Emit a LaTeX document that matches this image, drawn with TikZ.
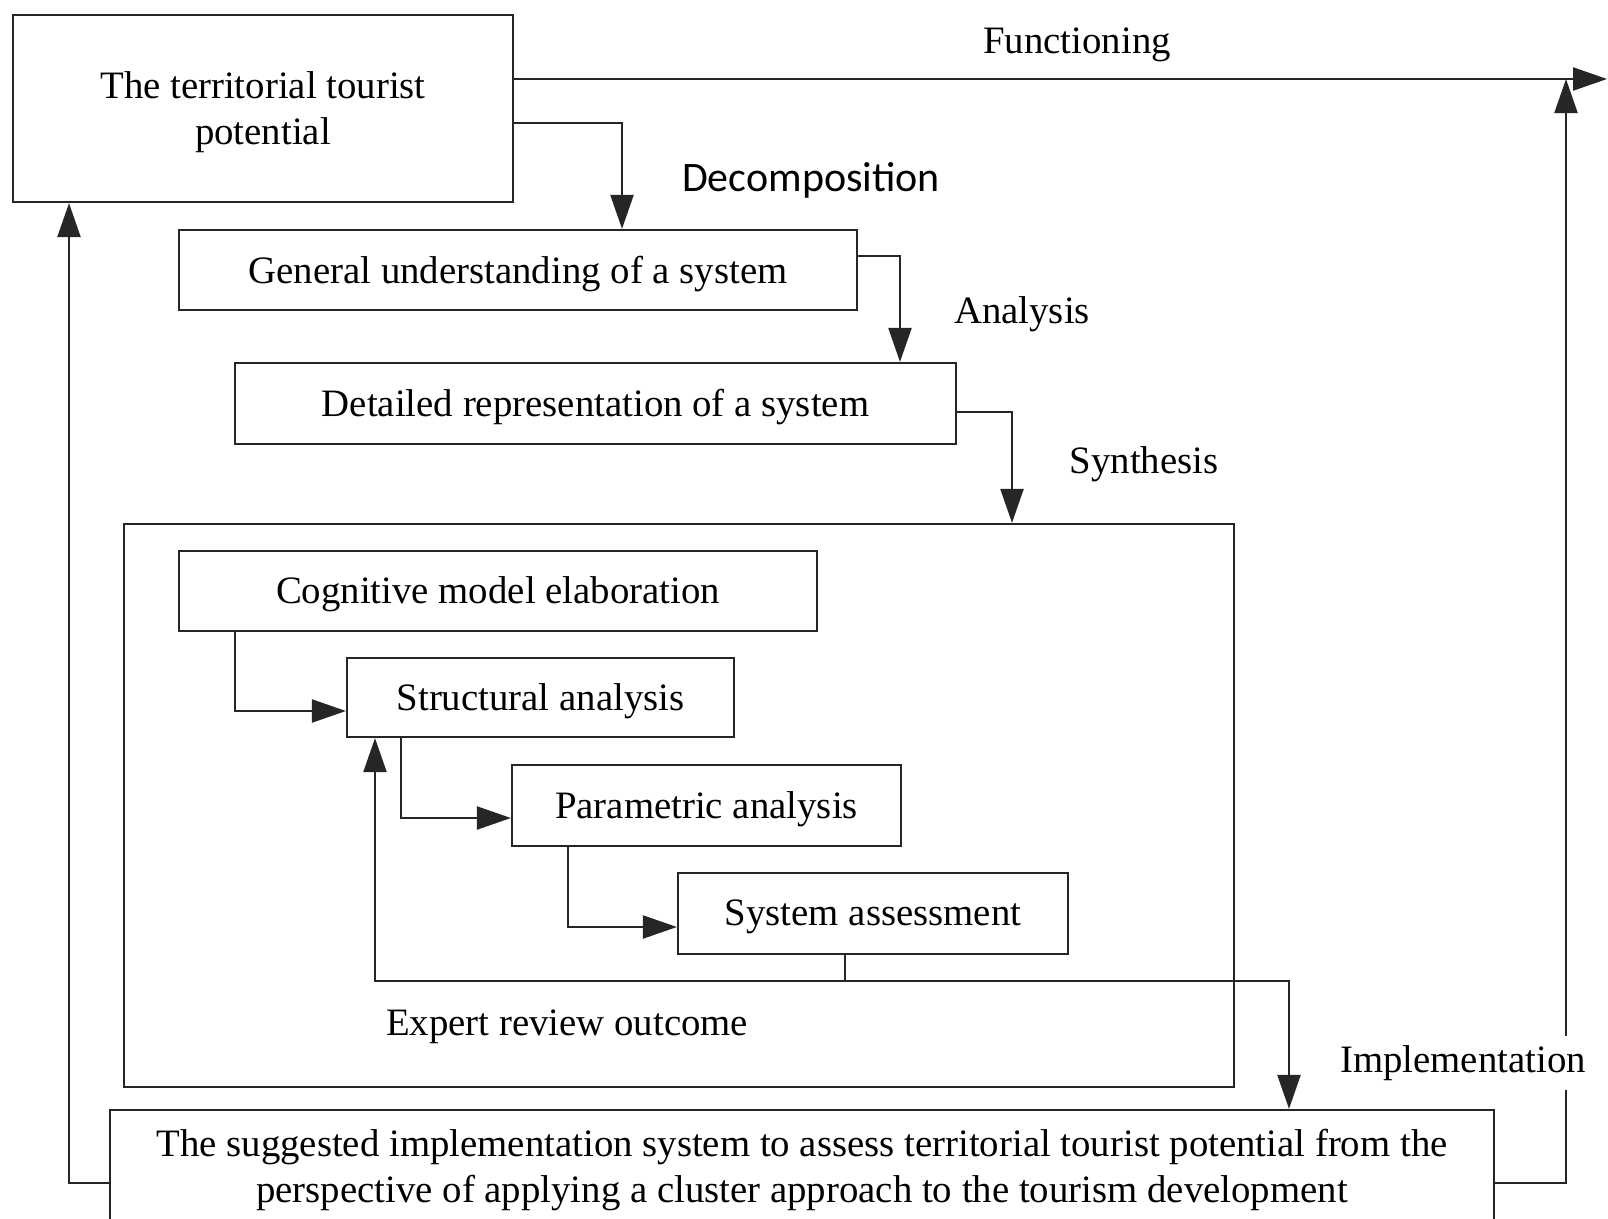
\documentclass[tikz,border=0pt]{standalone}
\usepackage{fontspec}
\setmainfont{Liberation Serif}
\newfontfamily\calib{Carlito}
\usetikzlibrary{arrows.meta}
\begin{document}
\begin{tikzpicture}[x=1pt,y=-1pt,
  line width=2.2pt, draw=black!85,
  every node/.style={font=\fontsize{38.8}{46}\selectfont},
  box/.style={draw, inner sep=0pt, align=center, text depth=1pt},
  lbl/.style={inner sep=0pt},
  arr/.style={-{Triangle[length=34pt,width=23pt]}},
  ]
\useasboundingbox (0,0) rectangle (1608,1218);
\fill[white] (0,0) rectangle (1608,1218);
% boxes
\node[box, minimum width=500pt, minimum height=187pt] (top) at (263,108.5) {The territorial tourist\\potential};
\node[box, minimum width=678pt, minimum height=80pt] (gen) at (518,270) {General understanding of a system};
\node[box, minimum width=721pt, minimum height=81pt] (det) at (595.5,403.5) {Detailed representation of a system};
\node[box, minimum width=1110pt, minimum height=563pt] (big) at (679,805.5) {};
\node[box, minimum width=638pt, minimum height=80pt] (cog) at (498,591) {Cognitive model elaboration};
\node[box, minimum width=387pt, minimum height=79pt] (str) at (540.5,697.5) {Structural analysis};
\node[box, minimum width=389pt, minimum height=81pt] (par) at (706.5,805.5) {Parametric analysis};
\node[box, minimum width=390pt, minimum height=81pt] (sys) at (873,913.5) {System assessment};
\node[draw, inner sep=0pt, align=center, minimum width=1384pt, minimum height=120pt] (imp) at (802,1170) {The suggested implementation system to assess territorial tourist potential from the\\perspective of applying a cluster approach to the tourism development};
% coordinates
\coordinate (fend) at (1607,79);
\coordinate (xa) at (622,123);
\coordinate (xb) at (900,256);
\coordinate (xc) at (1012,412);
\coordinate (j) at (845,981);
\coordinate (lx) at (69,1183);
\coordinate (rx) at (1566,1183);
% connectors
\draw[arr] (top.east |- fend) -- (fend);
\draw[arr] (top.east |- xa) -| (gen.north -| xa);
\draw[arr] (gen.east |- xb) -| (det.north -| xb);
\draw[arr] (det.east |- xc) -| (big.north -| xc);
\draw[arr] (cog.south -| 235,0) |- (str.west |- 0,711);
\draw[arr] (str.south -| 401,0) |- (par.west |- 0,818);
\draw[arr] (par.south -| 568,0) |- (sys.west |- 0,927);
\draw (sys.south -| j) -- (j);
\draw[arr] (j) -| (str.south -| 375,0);
\draw[arr] (j) -| (imp.north -| 1289,0);
\draw[arr] (imp.west |- lx) -- (lx) -- (top.south -| lx);
\draw[arr] (imp.east |- rx) -- (rx) -- (fend -| rx);
% labels
\node[lbl] (lf) at (1077,45) {Functioning};
\node[lbl, font=\calib\fontsize{42}{48}\selectfont] (ld) at (811,180) {Decomposition};
\node[lbl] (la) at (1022,314) {Analysis};
\node[lbl] (ls) at (1144,464) {Synthesis};
\node[lbl] (le) at (567,1027) {Expert review outcome};
\node[lbl, fill=white, inner sep=9pt] (li) at (1463,1063) {Implementation};
\end{tikzpicture}
\end{document}
